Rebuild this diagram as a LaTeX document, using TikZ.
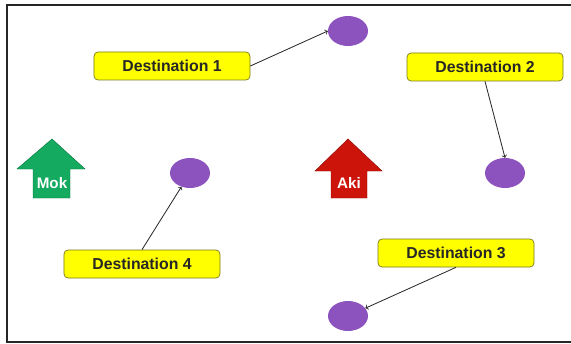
\documentclass[tikz,border=0pt]{standalone}
\usepackage{fontspec}
\setmainfont{Liberation Sans}
\usetikzlibrary{shapes.geometric}
\definecolor{destyellow}{RGB}{255,255,0}
\definecolor{destedge}{RGB}{120,120,30}
\definecolor{spotpurple}{RGB}{140,82,190}
\definecolor{mokgreen}{RGB}{20,170,95}
\definecolor{mokedge}{RGB}{10,120,65}
\definecolor{akired}{RGB}{205,20,10}
\definecolor{akiedge}{RGB}{140,10,5}

\begin{document}
\begin{tikzpicture}[x=0.03cm,y=-0.03cm,
  dest/.style={draw=destedge,fill=destyellow,line width=0.6pt,rounded corners=3.5pt,minimum width=4.68cm,
    minimum height=0.84cm,font=\bfseries\fontsize{13.5}{15}\selectfont,text=black!85},
  spot/.style={ellipse,fill=spotpurple,minimum width=1.2cm,minimum height=0.9cm,inner sep=0pt},
  link/.style={->,line width=0.7pt,black!85},
  tag/.style={font=\bfseries\fontsize{13}{15}\selectfont,text=white}]
\useasboundingbox (0,0) rectangle (571,344);
% Frame
\draw[line width=1.6pt,black!85] (571,5) -- (7,5) -- (7,342) -- (571,342);

% Spots
\node[spot] (e1) at (348,31) {};
\node[spot] (e2) at (505,173) {};
\node[spot] (e3) at (348,316) {};
\node[spot] (e4) at (190,173) {};

% Destinations
\node[dest] (d1) at (172,66) {Destination 1};
\node[dest] (d2) at (485,67) {Destination 2};
\node[dest] (d3) at (456,253) {Destination 3};
\node[dest] (d4) at (142,264) {Destination 4};

% Links
\draw[link] (d1.east) -- (e1.west);
\draw[link] (d2.south) -- (e2.north);
\draw[link] (d3.south) -- (e3);
\draw[link] (d4.north) -- (e4);

% Mok arrow
\fill[mokgreen,draw=mokedge,line width=0.4pt] (52,139) -- (85,169) -- (70,169) -- (70,198)
  -- (33,198) -- (33,169) -- (17,169) -- cycle;
\node[tag] (mok) at (52,183) {Mok};

% Aki arrow
\fill[akired,draw=akiedge,line width=0.4pt] (348,139) -- (382,171) -- (367,171) -- (367,198)
  -- (331,198) -- (331,171) -- (315,171) -- cycle;
\node[tag] (aki) at (349,183) {Aki};
\end{tikzpicture}
\end{document}
